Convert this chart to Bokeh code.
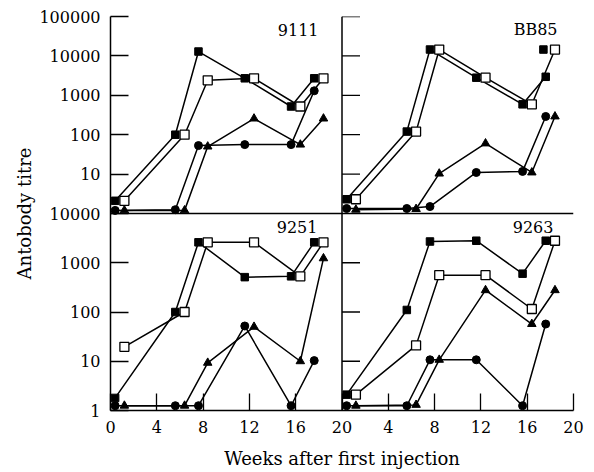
from math import log10
from bokeh.plotting import figure
from bokeh.models import (Range1d, LogScale, FixedTicker, CustomJSTickFormatter,
                          Span, Label, ColumnDataSource)
from bokeh.transform import dodge
from bokeh.embed import file_html
from bokeh.resources import INLINE

# sampling weeks (centre of each pair of markers)
weeks = [0.8, 6, 8, 12, 16, 18]

# Panel 9111 (top left)
t9111_filled = [2.1, 100, 12900, 2700, 520, 2700]
t9111_open = [2.1, 100, 2400, 2700, 520, 2700]
t9111_circle = [1.2, 1.25, 53, 56, 56, 1300]
t9111_triangle = [1.2, 1.2, 50, 257, 56, 257]

# Panel BB85 (top right)
bb85_filled = [2.3, 120, 14500, 2800, 590, 2950]
bb85_open = [2.3, 120, 14500, 2800, 590, 14500]
bb85_circle = [1.34, 1.34, 1.5, 11, 11.7, 290]
bb85_triangle = [1.25, 1.3, 10.3, 60, 11, 290]
bb85_extra_week = [17.8]
bb85_extra_filled = [14500]

# Panel 9251 (bottom left)
t9251_filled = [1.8, 100, 2600, 510, 530, 2600]
t9251_open = [19.6, 100, 2600, 2600, 530, 2600]
t9251_circle = [1.25, 1.25, 1.25, 52, 1.25, 10.3]
t9251_triangle = [1.25, 1.25, 9.3, 50, 10, 1230]

# Panel 9263 (bottom right)
t9263_filled = [2.1, 110, 2700, 2800, 600, 2800]
t9263_open = [2.1, 21, 560, 560, 115, 2800]
t9263_circle = [1.25, 1.25, 10.7, 10.7, 1.25, 57]
t9263_triangle = [1.25, 1.3, 10.7, 277, 57, 277]

panel_names = ["9111", "BB85", "9251", "9263"]
x_ticks = [0, 4, 8, 12, 16, 20]
top_ticks = [10, 100, 1000, 10000, 100000]
bottom_ticks = [1, 10, 100, 1000, 10000]

FONT = "DejaVu Serif"
BLACK = "black"

# main ranges: x covers both columns (0-20 left, 20-40 right), y is bottom row scale
p = figure(width=594, height=472, output_backend="svg", toolbar_location=None,
           x_range=Range1d(0, 40), y_range=Range1d(1, 1e8), y_axis_type="log",
           min_border_left=110, min_border_right=21, min_border_top=16,
           min_border_bottom=62)
p.extra_x_ranges = {"right": Range1d(-20, 20)}
p.extra_y_ranges = {"top": Range1d(1e-5, 1e5)}
p.extra_y_scales = {"top": LogScale()}
p.grid.visible = False
p.outline_line_color = None
p.background_fill_color = "white"
p.border_fill_color = "white"

# mapping of top-row values onto the main (bottom-row) log scale
K = 8 / 10
OFF = 4
top_in_main = [10 ** round(OFF + K * log10(v), 9) for v in top_ticks]

yax = p.yaxis[0]
yax.ticker = FixedTicker(ticks=bottom_ticks + top_in_main, minor_ticks=[])
yax.formatter = CustomJSTickFormatter(args=dict(k=K, off=OFF), code="""
    if (tick > 10001) { return String(Math.round(Math.pow(10, (Math.log10(tick) - off) / k))); }
    return String(Math.round(tick));
""")
yax.major_tick_in = 18
yax.major_tick_out = 0
yax.minor_tick_line_color = None
yax.axis_line_width = 1.5
yax.major_tick_line_width = 1.3
yax.major_label_standoff = 10
yax.major_label_text_font = FONT
yax.major_label_text_font_size = "16px"
yax.major_label_text_color = BLACK
yax.axis_label = "Antobody titre"
yax.axis_label_text_font = FONT
yax.axis_label_text_font_size = "18px"
yax.axis_label_text_font_style = "normal"
yax.axis_label_text_color = BLACK
yax.axis_label_standoff = 1

xax = p.xaxis[0]
xax.ticker = FixedTicker(ticks=x_ticks + [w + 20 for w in x_ticks[1:]], minor_ticks=[])
xax.formatter = CustomJSTickFormatter(code="return String(tick > 20 ? tick - 20 : tick);")
xax.major_tick_in = 17
xax.major_tick_out = 0
xax.minor_tick_line_color = None
xax.axis_line_width = 1.5
xax.major_tick_line_width = 1.3
xax.major_label_standoff = 10
xax.major_label_text_font = FONT
xax.major_label_text_font_size = "16px"
xax.major_label_text_color = BLACK
xax.axis_label = "Weeks after first injection"
xax.axis_label_text_font = FONT
xax.axis_label_text_font_size = "18px"
xax.axis_label_text_font_style = "normal"
xax.axis_label_text_color = BLACK
xax.axis_label_standoff = 12

# panel dividers
p.add_layout(Span(location=10000, dimension="width", line_color=BLACK, line_width=1.5))
p.add_layout(Span(location=20, dimension="height", line_color=BLACK, line_width=1.5))

# inner y-axis ticks of the right column
p.ray(x=[20] * len(top_ticks), y=top_ticks, length=18, length_units="screen", angle=0,
      line_color=BLACK, line_width=1.3, y_range_name="top")
inner_bottom = bottom_ticks[1:-1]
p.ray(x=[20] * len(inner_bottom), y=inner_bottom, length=18, length_units="screen", angle=0,
      line_color=BLACK, line_width=1.3)

panels = [
    ("default", "top", t9111_filled, t9111_open, t9111_circle, t9111_triangle),
    ("right", "top", bb85_filled, bb85_open, bb85_circle, bb85_triangle),
    ("default", "default", t9251_filled, t9251_open, t9251_circle, t9251_triangle),
    ("right", "default", t9263_filled, t9263_open, t9263_circle, t9263_triangle),
]
OFFSETS = {"filled": -0.4, "open": 0.4, "circle": -0.4, "triangle": 0.4}

sources = []
for xr, yr, f, o, c, t in panels:
    src = ColumnDataSource(dict(week=weeks, filled=f, open=o, circle=c, triangle=t))
    sources.append((src, xr, yr))
    for col, off in OFFSETS.items():
        p.line(x=dodge("week", off), y=col, source=src, x_range_name=xr, y_range_name=yr,
               line_color=BLACK, line_width=1.5)

for src, xr, yr in sources:
    kw = dict(source=src, x_range_name=xr, y_range_name=yr)
    p.scatter(x=dodge("week", OFFSETS["filled"]), y="filled", marker="square", size=7.5,
              fill_color=BLACK, line_color=BLACK, **kw)
    p.scatter(x=dodge("week", OFFSETS["open"]), y="open", marker="square", size=9,
              fill_color="white", line_color=BLACK, line_width=1.3, **kw)
    p.scatter(x=dodge("week", OFFSETS["circle"]), y="circle", marker="circle", size=8,
              fill_color=BLACK, line_color=BLACK, **kw)
    p.scatter(x=dodge("week", OFFSETS["triangle"]), y="triangle", marker="triangle", size=8.5,
              fill_color=BLACK, line_color=BLACK, **kw)

extra = ColumnDataSource(dict(week=bb85_extra_week, filled=bb85_extra_filled))
p.scatter(x=dodge("week", OFFSETS["filled"]), y="filled", source=extra, marker="square",
          size=7.5, fill_color=BLACK, line_color=BLACK, x_range_name="right", y_range_name="top")

# panel labels
label_specs = [
    (panel_names[0], 17.97, "default", 10 ** 4.67, "top"),
    (panel_names[1], 18.62, "right", 10 ** 4.67, "top"),
    (panel_names[2], 17.88, "default", 10 ** 3.73, "default"),
    (panel_names[3], 18.27, "right", 10 ** 3.73, "default"),
]
for txt, lx, xr, ly, yr in label_specs:
    p.add_layout(Label(x=lx, y=ly, x_range_name=xr, y_range_name=yr, text=txt,
                       text_align="right", text_baseline="alphabetic",
                       text_font=FONT, text_font_size="16px", text_color=BLACK))

open("out.html", "w").write(file_html(p, INLINE))
